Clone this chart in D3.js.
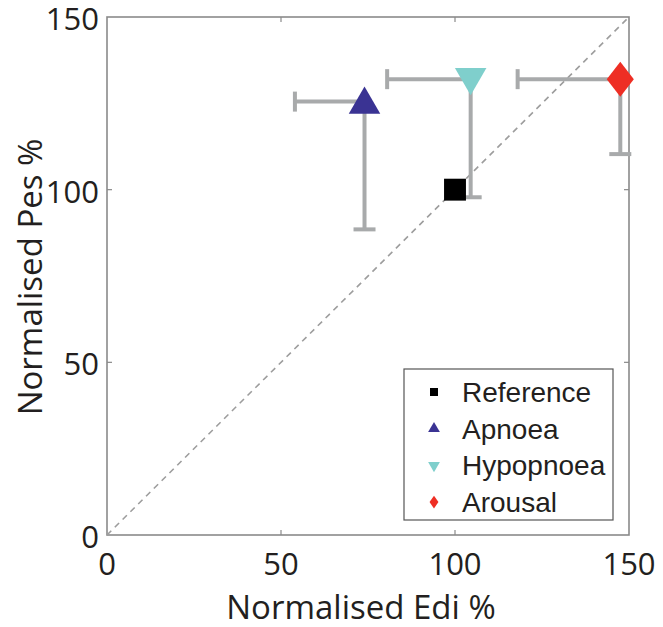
<!DOCTYPE html>
<html>
<head>
<meta charset="utf-8">
<script src="https://cdn.jsdelivr.net/npm/d3@7"></script>
<style>
  body { margin: 0; background: #fff; }
</style>
</head>
<body>
<script>
// data
var groups = ["Reference", "Apnoea", "Hypopnoea", "Arousal"];
var edi = [100, 74, 104.5, 147.5];
var pes = [100, 125.5, 132, 132];
var ediLow = [null, 54, 80.5, 118];
var pesLow = [null, 88.5, 97.8, 110.3];
var tickVals = [0, 50, 100, 150];

var colors = ["#000000", "#3a3393", "#7fcfcc", "#ee2e24"];
var shapes = [d3.symbolSquare, d3.symbolTriangle, d3.symbolTriangle, d3.symbolDiamond];

var W = 663, H = 627;
var margin = {top: 17, right: 34, bottom: 92, left: 107},
  width = W - margin.left - margin.right,
  height = H - margin.top - margin.bottom;

var svg = d3.select("body").append("svg")
  .attr("width", W).attr("height", H);

var g = svg.append("g")
  .attr("transform", "translate(" + margin.left + "," + margin.top + ")");

var x = d3.scaleLinear().domain([0, 150]).range([0, width]);
var y = d3.scaleLinear().domain([0, 150]).range([height, 0]);

var axisColor = "#8a8a8a", textColor = "#231f20", barColor = "#a8aaab";

// frame
g.append("rect")
  .attr("width", width).attr("height", height)
  .attr("fill", "none").attr("stroke", axisColor).attr("stroke-width", 1.6);

// inward ticks on all four sides
[0, 1].forEach(function (side) {
  g.selectAll(null).data([50, 100]).enter().append("line")
    .attr("x1", function (d) { return x(d); }).attr("x2", function (d) { return x(d); })
    .attr("y1", side ? 0 : height).attr("y2", side ? 5 : height - 5)
    .attr("stroke", axisColor).attr("stroke-width", 1.2);
  g.selectAll(null).data([50, 100]).enter().append("line")
    .attr("y1", function (d) { return y(d); }).attr("y2", function (d) { return y(d); })
    .attr("x1", side ? width : 0).attr("x2", side ? width - 5 : 5)
    .attr("stroke", axisColor).attr("stroke-width", 1.2);
});

// tick labels
g.selectAll(".xl").data(tickVals).enter().append("text")
  .attr("x", function (d) { return x(d); })
  .attr("y", height + 40)
  .attr("text-anchor", "middle")
  .style("font-family", "'Open Sans', sans-serif")
  .style("font-size", "31px")
  .attr("fill", textColor)
  .text(function (d) { return d; });

g.selectAll(".yl").data(tickVals).enter().append("text")
  .attr("x", -8)
  .attr("y", function (d) { return y(d) + 13; })
  .attr("text-anchor", "end")
  .style("font-family", "'Open Sans', sans-serif")
  .style("font-size", "31px")
  .attr("fill", textColor)
  .text(function (d) { return d; });

// axis titles
svg.append("text")
  .attr("x", margin.left + x(75) - 7)
  .attr("y", 619)
  .attr("text-anchor", "middle")
  .style("font-family", "'Open Sans', sans-serif")
  .style("font-size", "33px")
  .attr("fill", textColor)
  .text("Normalised Edi %");

svg.append("text")
  .attr("transform", "translate(42," + 277 + ") rotate(-90)")
  .attr("text-anchor", "middle")
  .style("font-family", "'Open Sans', sans-serif")
  .style("font-size", "33px")
  .attr("fill", textColor)
  .text("Normalised Pes %");

// identity line
g.append("line")
  .attr("x1", x(0)).attr("y1", y(0))
  .attr("x2", x(150)).attr("y2", y(150))
  .attr("stroke", "#9d9d9d").attr("stroke-width", 1.6)
  .attr("stroke-dasharray", "6,5");

// error bars (one sided)
var idx = d3.range(groups.length).filter(function (i) { return ediLow[i] != null; });
var cap = 10;

idx.forEach(function (i) {
  var eb = g.append("g").attr("stroke", barColor).attr("stroke-width", 4);
  eb.append("line")
    .attr("x1", x(ediLow[i])).attr("x2", x(edi[i]))
    .attr("y1", y(pes[i])).attr("y2", y(pes[i]));
  eb.append("line")
    .attr("x1", x(ediLow[i])).attr("x2", x(ediLow[i]))
    .attr("y1", y(pes[i]) - cap).attr("y2", y(pes[i]) + cap);
  eb.append("line")
    .attr("x1", x(edi[i])).attr("x2", x(edi[i]))
    .attr("y1", y(pes[i])).attr("y2", y(pesLow[i]));
  eb.append("line")
    .attr("x1", x(edi[i]) - cap - 1).attr("x2", x(edi[i]) + cap + 1)
    .attr("y1", y(pesLow[i])).attr("y2", y(pesLow[i]));
});

// markers
var sizes = [480, 430, 430, 354];
var rot = [0, 0, 180, 0];
var scaleX = [1, 1, 1, 1.34];
g.selectAll(".pt").data(groups).enter().append("path")
  .attr("d", function (d, i) { return d3.symbol().type(shapes[i]).size(sizes[i])(); })
  .attr("transform", function (d, i) {
    var dy = i === 1 ? 3 : (i === 2 ? -2 : 0);
    return "translate(" + x(edi[i]) + "," + (y(pes[i]) + dy) + ") rotate(" + rot[i] + ") scale(" + scaleX[i] + ",1)";
  })
  .attr("fill", function (d, i) { return colors[i]; });

// legend
var lg = svg.append("g").attr("transform", "translate(404,369)");
lg.append("rect")
  .attr("width", 209).attr("height", 151)
  .attr("fill", "#fff").attr("stroke", "#555").attr("stroke-width", 1.2);

var rows = lg.selectAll(".row").data(groups).enter().append("g")
  .attr("transform", function (d, i) { return "translate(0," + (23 + i * 36.7) + ")"; });

rows.append("path")
  .attr("d", function (d, i) { return d3.symbol().type(shapes[i]).size(i === 0 ? 64 : (i === 3 ? 48 : 60))(); })
  .attr("transform", function (d, i) {
    return "translate(30,0) rotate(" + rot[i] + ") scale(" + (i === 3 ? 1.2 : 1) + ",1)";
  })
  .attr("fill", function (d, i) { return colors[i]; });

rows.append("text")
  .attr("x", 58).attr("y", 10)
  .style("font-family", "'Liberation Sans', Arial, sans-serif")
  .style("font-size", "28px")
  .attr("fill", textColor)
  .text(function (d) { return d; });
</script>
</body>
</html>
